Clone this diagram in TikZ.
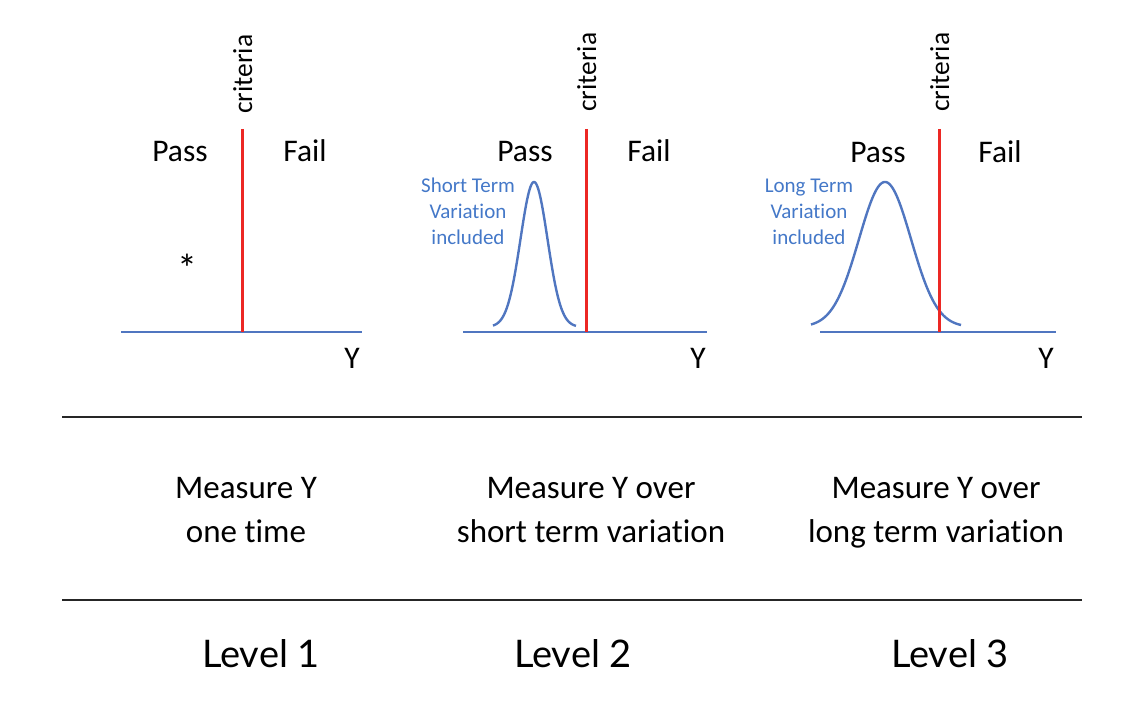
\documentclass[tikz,border=0pt]{standalone}
\usepackage{fontspec}
\setmainfont{Carlito}[Ligatures=NoCommon]
\newfontfamily\levelfont{Lato}[Ligatures=NoCommon]
\definecolor{axisblue}{RGB}{80,118,192}
\definecolor{txtblue}{RGB}{68,120,200}
\definecolor{critred}{RGB}{236,40,36}
\tikzset{
  axisline/.style={draw=axisblue, line width=2.6pt},
  critline/.style={draw=critred, line width=3pt},
  curveline/.style={draw=axisblue, line width=2.4pt, line join=round},
  rule/.style={draw=black!85, line width=1.3pt},
  bigtxt/.style={inner sep=0pt, anchor=base, font=\fontsize{31.5}{37}\selectfont},
  crittxt/.style={inner sep=0pt, anchor=base west, rotate=90, font=\fontsize{27.5}{33}\selectfont},
  smalltxt/.style={inner sep=0pt, anchor=base, text=txtblue, font=\fontsize{21}{25}\selectfont},
  meastxt/.style={inner sep=0pt, anchor=base, font=\fontsize{33}{38}\selectfont},
  leveltxt/.style={inner sep=0pt, anchor=base, font=\levelfont\fontsize{38}{46}\selectfont},
}
\begin{document}
\begin{tikzpicture}[x=1pt, y=-1pt]
\useasboundingbox (0,0) rectangle (1138,714);
% ---------- Panel 1 ----------
\draw[axisline] (121,332) -- (362,332);
\draw[critline] (242,129) -- (242,332);
\node[crittxt] (c1) at (252,114) {criteria};
\node[bigtxt] (p1) at (180,162) {Pass};
\node[bigtxt] (f1) at (305,162) {Fail};
\node[inner sep=0pt, font=\fontsize{40}{46}\selectfont] (s1) at (187,268) {*};
\node[bigtxt] (y1) at (352,368) {Y};
% ---------- Panel 2 ----------
\draw[axisline] (463,332) -- (707,332);
\draw[curveline] plot[domain=493:576, samples=120, smooth] (\x, {327-145*exp(-((\x-534)*(\x-534))/364.5)});
\draw[critline] (586,129) -- (586,332);
\node[crittxt] (c2) at (596,112) {criteria};
\node[bigtxt] (p2) at (525,162) {Pass};
\node[bigtxt] (f2) at (649,162) {Fail};
\node[bigtxt] (y2) at (698,368) {Y};
\node[smalltxt] (st1) at (468,193) {Short Term};
\node[smalltxt] (st2) at (468,219) {Variation};
\node[smalltxt] (st3) at (468,244) {included};
% ---------- Panel 3 ----------
\draw[axisline] (820,332) -- (1056,332);
\draw[curveline] plot[domain=811:961, samples=160, smooth] (\x, {327-145*exp(-((\x-885)*(\x-885))/1352)});
\draw[critline] (939,129) -- (939,332);
\node[crittxt] (c3) at (949,112) {criteria};
\node[bigtxt] (p3) at (878,163) {Pass};
\node[bigtxt] (f3) at (1000,163) {Fail};
\node[bigtxt] (y3) at (1046,368) {Y};
\node[smalltxt] (lt1) at (809,193) {Long Term};
\node[smalltxt] (lt2) at (809,219) {Variation};
\node[smalltxt] (lt3) at (809,244) {included};
% ---------- Rules ----------
\draw[rule] (62,417) -- (1082,417);
\draw[rule] (62,600) -- (1082,600);
% ---------- Descriptions ----------
\node[meastxt] (m1a) at (246,498) {Measure Y};
\node[meastxt] (m1b) at (246,542) {one time};
\node[meastxt] (m2a) at (591,498) {Measure Y over};
\node[meastxt] (m2b) at (591,542) {short term variation};
\node[meastxt] (m3a) at (936,498) {Measure Y over};
\node[meastxt] (m3b) at (936,542) {long term variation};
% ---------- Levels ----------
\node[leveltxt] (l1) at (261,667) {Level 1};
\node[leveltxt] (l2) at (573,667) {Level 2};
\node[leveltxt] (l3) at (950,667) {Level 3};
\end{tikzpicture}
\end{document}
